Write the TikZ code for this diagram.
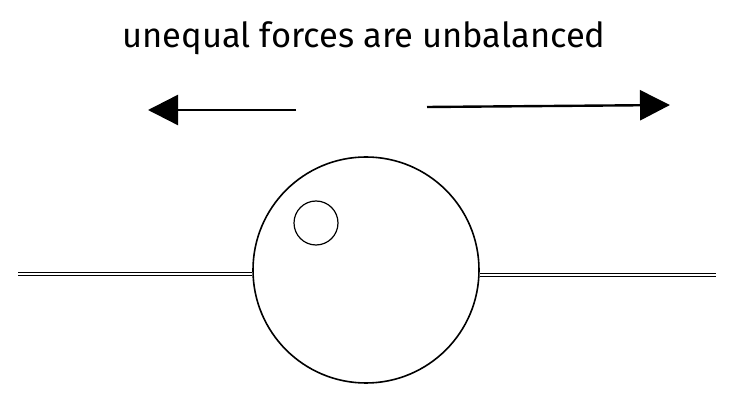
\documentclass[tikz,border=0pt]{standalone}
\usepackage{fontspec}
\setmainfont{Fira Sans}
\usetikzlibrary{arrows.meta}
\tikzstyle{ball} = [
    circle,
    minimum size=226pt,
    inner sep=0pt,
    draw=black,
    line width=1.6pt
]
\tikzstyle{spot} = [
    circle,
    minimum size=44pt,
    inner sep=0pt,
    draw=black,
    line width=1.2pt
]
\tikzstyle{ground} = [line width=1.4pt, double distance=1.2pt]
\tikzstyle{arrow} = [line width=2.4pt, -{Triangle[length=30pt,width=30pt]}]

\begin{document}
\begin{tikzpicture}[x=1pt, y=-1pt]
\useasboundingbox (0,0) rectangle (734,403);

\node (title) at (364,38) {\fontsize{34.5}{40}\selectfont unequal forces are unbalanced};

\node (ball) [ball] at (366,270) {};
\node (spot) [spot] at (316,223) {};

\coordinate (leftend) at (18,274);
\coordinate (rightend) at (716,275);
\draw [ground] (leftend) -- (leftend -| ball.west);
\draw [ground] (rightend -| ball.east) -- (rightend);

\coordinate (lefttail) at (296,110);
\coordinate (lefttip) at (148,110);
\coordinate (righttail) at (427,107);
\coordinate (righttip) at (670,105);
\draw [arrow] (lefttail) -- (lefttip);
\draw [arrow] (righttail) -- (righttip);

\end{tikzpicture}
\end{document}
